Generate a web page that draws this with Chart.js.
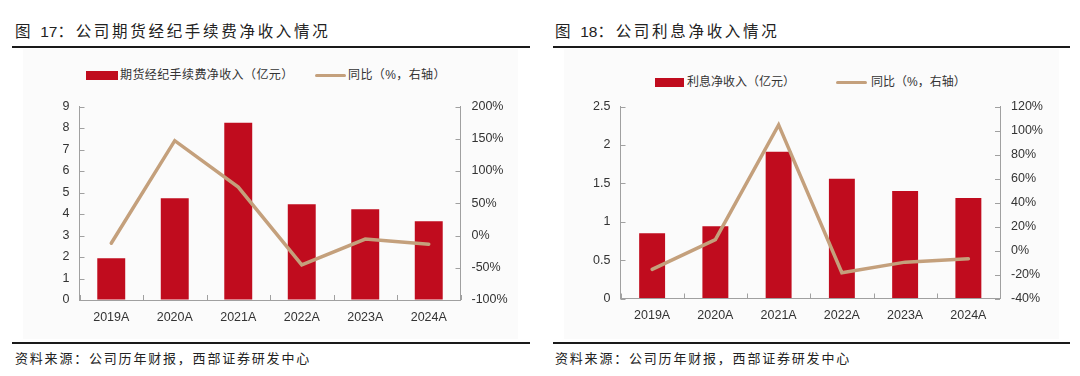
<!DOCTYPE html>
<html>
<head>
<meta charset="utf-8">
<script src="https://cdn.jsdelivr.net/npm/chart.js@4.4.0/dist/chart.umd.min.js"></script>
<style>
  body { margin: 0; background: #fff; width: 1080px; height: 376px; position: relative; overflow: hidden;
         font-family: "Liberation Sans", "Noto Sans CJK SC", sans-serif; color: #222; }
  .abs { position: absolute; white-space: nowrap; }
  .title { font-size: 15.5px; letter-spacing: 2.7px; line-height: 20px; top: 22px; }
  .title .num { letter-spacing: 0; }
  .rule { height: 2px; background: #1a1a1a; }
  .panel { background: #fbfbfb; top: 49px; height: 290px; width: 495px; }
  .src { font-size: 13px; letter-spacing: 1.8px; line-height: 16px; top: 351px; }
  .leg { font-size: 12px; line-height: 14px; color: #333; }
  .box { background: #C00C1E; height: 9px; }
  .ln { background: #C4A07C; height: 3px; border-radius: 1.5px; }
</style>
</head>
<body>
  <!-- left figure -->
  <div class="abs title" style="left:15px;">图 <span class="num">17</span>：公司期货经纪手续费净收入情况</div>
  <div class="abs rule" style="left:12px; width:518px; top:46px;"></div>
  <div class="abs panel" style="left:23px;"></div>
  <div class="abs box" style="left:86px; top:71px; width:32px;"></div>
  <div class="abs leg" style="left:120px; top:68px; letter-spacing:0.4px;">期货经纪手续费净收入（亿元）</div>
  <div class="abs ln" style="left:315px; top:74px; width:31px;"></div>
  <div class="abs leg" style="left:348px; top:68px; letter-spacing:0.4px;">同比（%，右轴）</div>
  <canvas id="feeChart" class="abs" style="left:23px; top:88px;" width="490" height="250"></canvas>
  <div class="abs rule" style="left:12px; width:518px; top:342px;"></div>
  <div class="abs src" style="left:15px;">资料来源：公司历年财报，西部证券研发中心</div>

  <!-- right figure -->
  <div class="abs title" style="left:555px;">图 <span class="num">18</span>：公司利息净收入情况</div>
  <div class="abs rule" style="left:553px; width:517px; top:46px;"></div>
  <div class="abs panel" style="left:564px;"></div>
  <div class="abs box" style="left:655px; top:78px; width:29px;"></div>
  <div class="abs leg" style="left:687px; top:75px;">利息净收入（亿元）</div>
  <div class="abs ln" style="left:836px; top:81px; width:31px;"></div>
  <div class="abs leg" style="left:871px; top:75px;">同比（%，右轴）</div>
  <canvas id="interestChart" class="abs" style="left:564px; top:88px;" width="490" height="250"></canvas>
  <div class="abs rule" style="left:553px; width:517px; top:342px;"></div>
  <div class="abs src" style="left:555px;">资料来源：公司历年财报，西部证券研发中心</div>

<script>
const years = ['2019A', '2020A', '2021A', '2022A', '2023A', '2024A'];

// 期货经纪手续费净收入（亿元） and yoy (%)
const feeIncome = [1.94, 4.73, 8.25, 4.45, 4.22, 3.66];
const feeYoY = [-12, 147, 75, -45.5, -5.5, -13.5];

// 利息净收入（亿元） and yoy (%)
const interestIncome = [0.85, 0.94, 1.91, 1.56, 1.40, 1.31];
const interestYoY = [-15.7, 9.1, 104.7, -18.5, -9.7, -6.9];

const barColor = '#C00C1E';
const lineColor = '#C4A07C';
const axisColor = '#A0A0A0';
const tickFont = { family: '"Liberation Sans", Arial, sans-serif', size: 12.5 };

// short tick marks drawn on the inside of each axis
const innerTicks = {
  id: 'innerTicks',
  afterDraw(chart) {
    const ctx = chart.ctx;
    const area = chart.chartArea;
    ctx.save();
    ctx.strokeStyle = axisColor;
    ctx.lineWidth = 1;
    ctx.beginPath();
    const x = chart.scales.x;
    const half = (x.getPixelForTick(1) - x.getPixelForTick(0)) / 2;
    for (let i = 0; i <= years.length; i++) {
      const px = Math.round(x.getPixelForTick(0) - half + i * half * 2) + 0.5;
      ctx.moveTo(px, area.bottom);
      ctx.lineTo(px, area.bottom - 5);
    }
    const y = chart.scales.y;
    y.ticks.forEach((t, i) => {
      const py = Math.round(y.getPixelForTick(i)) + 0.5;
      ctx.moveTo(area.left, py);
      ctx.lineTo(area.left + 5, py);
    });
    const y1 = chart.scales.y1;
    y1.ticks.forEach((t, i) => {
      const py = Math.round(y1.getPixelForTick(i)) + 0.5;
      ctx.moveTo(area.right, py);
      ctx.lineTo(area.right - 5, py);
    });
    ctx.stroke();
    ctx.restore();
  }
};

function makeChart(id, bars, yoy, opt) {
  const ctx = document.getElementById(id).getContext('2d');
  return new Chart(ctx, {
    type: 'bar',
    data: {
      labels: years,
      datasets: [
        {
          type: 'line',
          data: yoy,
          yAxisID: 'y1',
          borderColor: lineColor,
          borderWidth: 3.5,
          borderCapStyle: 'round',
          pointRadius: 0,
          tension: 0,
          order: 0
        },
        {
          type: 'bar',
          data: bars,
          yAxisID: 'y',
          backgroundColor: barColor,
          categoryPercentage: 1,
          barPercentage: opt.barPct,
          order: 1
        }
      ]
    },
    options: {
      responsive: false,
      animation: false,
      layout: { padding: { top: opt.padTop, bottom: opt.padBottom, left: 0, right: 0 } },
      plugins: { legend: { display: false }, tooltip: { enabled: false } },
      scales: {
        x: {
          grid: { display: true, drawOnChartArea: false, drawTicks: false },
          border: { color: axisColor },
          ticks: { color: '#333', font: tickFont, padding: 10, maxRotation: 0 },
          afterFit: s => { s.height = 30; }
        },
        y: {
          position: 'left',
          min: opt.yMin, max: opt.yMax,
          grid: { display: true, drawOnChartArea: false, drawTicks: false },
          border: { color: axisColor },
          ticks: {
            stepSize: opt.yStep, color: '#333', font: tickFont, padding: 10,
            callback: v => String(Math.round(v * 10) / 10)
          },
          afterFit: s => { s.width = opt.leftW; }
        },
        y1: {
          position: 'right',
          min: opt.pMin, max: opt.pMax,
          grid: { display: true, drawOnChartArea: false, drawTicks: false },
          border: { color: axisColor },
          ticks: {
            stepSize: opt.pStep, color: '#333', font: tickFont, padding: 11,
            callback: v => v + '%'
          },
          afterFit: s => { s.width = opt.rightW; }
        }
      }
    },
    plugins: [innerTicks]
  });
}

makeChart('feeChart', feeIncome, feeYoY, {
  barPct: 0.44, yMin: 0, yMax: 9, yStep: 1, pMin: -100, pMax: 200, pStep: 50,
  leftW: 56.5, rightW: 52.5, padTop: 12, padBottom: 8
});

makeChart('interestChart', interestIncome, interestYoY, {
  barPct: 0.41, yMin: 0, yMax: 2.5, yStep: 0.5, pMin: -40, pMax: 120, pStep: 20,
  leftW: 56.5, rightW: 54, padTop: 17, padBottom: 9.5
});
</script>
</body>
</html>
